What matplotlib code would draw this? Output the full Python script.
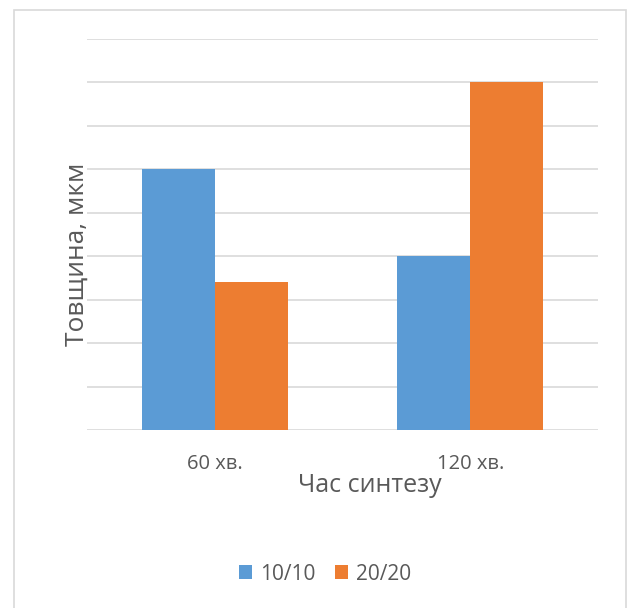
import matplotlib
matplotlib.use("Agg")
import matplotlib.pyplot as plt
import numpy as np
from matplotlib.patches import Rectangle

# Film thickness by synthesis time
categories = ["60 хв.", "120 хв."]
series_names = ["10/10", "20/20"]
thickness_10 = [6.0, 4.0]
thickness_20 = [3.4, 8.0]
colors = ["#5B9BD5", "#ED7D31"]
text_color = "#595959"

plt.rcParams["font.family"] = ["Open Sans", "DejaVu Sans"]

fig = plt.figure(figsize=(6.27, 6.08), dpi=100)
ax = fig.add_axes([87 / 627, (608 - 430) / 608, (598 - 87) / 627, (430 - 39) / 608])

# chart area border
fig.patches.append(Rectangle((13.5 / 627, -0.01), (626 - 13.5) / 627, (608 - 10) / 608 + 0.01,
                             transform=fig.transFigure, fill=False,
                             edgecolor="#d9d9d9", linewidth=1.2))

x = np.arange(len(categories))
width = 0.286
ax.bar(x - width / 2, thickness_10, width, color=colors[0], label=series_names[0], zorder=3)
ax.bar(x + width / 2, thickness_20, width, color=colors[1], label=series_names[1], zorder=3)

ax.set_xlim(-0.5, 1.5)
ax.set_ylim(0, 9)
ax.set_yticks(np.arange(0, 10, 1))
ax.yaxis.grid(True, color="#d9d9d9", linewidth=1.2, zorder=0)
ax.tick_params(axis="y", length=0, labelleft=False)
ax.tick_params(axis="x", length=0, pad=17, labelsize=14.5, labelcolor=text_color)
ax.set_xticks(x)
ax.set_xticklabels(categories)
for s in ax.spines.values():
    s.set_visible(False)

ax.set_xlabel("Час синтезу", fontsize=18, color=text_color, va="center")
ax.xaxis.set_label_coords((370 - 87) / 511, -(485 - 430) / 391)
ax.set_ylabel("Товщина, мкм", fontsize=19, color=text_color, va="center")
ax.yaxis.set_label_coords((77 - 87) / 511, (430 - 254) / 391)

ax.legend(loc="center", bbox_to_anchor=(325 / 627, 1 - 574 / 608),
          bbox_transform=fig.transFigure, ncol=2, frameon=False,
          fontsize=15, labelcolor=text_color, handlelength=0.63, handleheight=0.63,
          handletextpad=0.38, columnspacing=0.9)

fig.savefig("out.png", dpi=100)
